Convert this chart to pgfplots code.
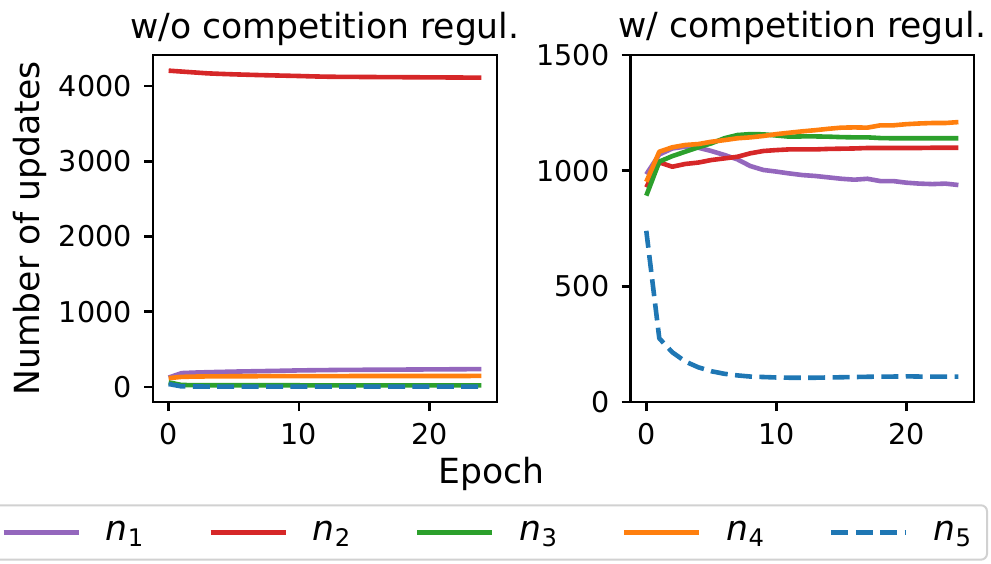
\documentclass[border=0pt]{standalone}
\usepackage{fontspec}
\setmainfont{DejaVu Sans}
\usepackage{pgfplots}
\pgfplotsset{compat=1.18}

\definecolor{tabpurple}{HTML}{9467BD}
\definecolor{tabred}{HTML}{D62728}
\definecolor{tabgreen}{HTML}{2CA02C}
\definecolor{taborange}{HTML}{FF7F0E}
\definecolor{tabblue}{HTML}{1F77B4}

% one row per epoch: n1 n2 n3 n4 n5
\pgfplotstableread{
ep n1 n2 n3 n4 n5
0 125 4204 62 118 40
1 185 4192 27 135 8
2 192 4180 25 139 7
3 197 4168 24 141 6
4 201 4161 24 142 6
5 205 4155 23 143 5
6 208 4150 23 143 5
7 211 4145 23 144 5
8 214 4141 23 144 5
9 217 4137 23 144 5
10 221 4133 23 145 5
11 223 4128 22 145 5
12 225 4124 22 145 5
13 227 4122 22 145 5
14 228 4121 22 146 5
15 229 4120 22 146 5
16 230 4119 22 146 5
17 231 4118 22 146 5
18 232 4117 22 146 5
19 233 4116 22 147 5
20 234 4115 22 147 5
21 235 4114 22 147 5
22 236 4113 22 147 5
23 237 4112 22 147 5
24 238 4111 22 148 5
}\noreg

\pgfplotstableread{
ep n1 n2 n3 n4 n5
0 984 928 892 952 740
1 1070 1036 1039 1082 275
2 1096 1017 1063 1101 215
3 1104 1029 1082 1111 175
4 1099 1035 1101 1115 150
5 1085 1046 1118 1125 133
6 1068 1053 1140 1132 122
7 1049 1060 1154 1140 115
8 1020 1075 1158 1144 110
9 1003 1085 1157 1150 108
10 996 1089 1152 1158 106
11 988 1092 1147 1164 105
12 981 1092 1148 1170 105
13 977 1092 1148 1175 105
14 971 1094 1147 1181 106
15 965 1095 1145 1186 107
16 961 1096 1144 1187 108
17 965 1098 1144 1186 109
18 955 1098 1141 1196 110
19 955 1098 1140 1196 110
20 948 1098 1140 1201 111
21 944 1098 1140 1204 110
22 942 1099 1140 1206 110
23 944 1099 1140 1206 110
24 938 1099 1140 1210 110
}\withreg

\pgfplotsset{
  panel/.style={
    scale only axis, width=172pt, height=173.5pt, anchor=south west,
    xmin=-1.2, xmax=25.2, xtick={0,10,20},
    tick align=outside, tick pos=left, major tick length=4.5pt,
    axis line style={line width=1.3pt},
    every tick/.style={black, line width=1.3pt},
    tick label style={font=\fontsize{14.3}{16}\selectfont},
    xticklabel style={inner sep=0pt, anchor=north, yshift=-6pt},
    yticklabel style={inner sep=0pt, anchor=east, xshift=-6pt},
    /pgf/number format/assume math mode=true,
    /pgf/number format/set thousands separator={},
    scaled y ticks=false,
    title style={font=\fontsize{17.3}{20}\selectfont, anchor=base, yshift=2.5pt, inner sep=0pt},
    every axis plot/.append style={line width=2.3pt, line join=round},
  },
}

\begin{document}
\begin{tikzpicture}
\begin{axis}[panel, at={(76.5pt,80.5pt)},
  title={w/o competition regul.},
  ymin=-199, ymax=4412, ytick={0,1000,2000,3000,4000}]
\addplot[tabpurple] table[x=ep, y=n1] {\noreg};
\addplot[tabred] table[x=ep, y=n2] {\noreg};
\addplot[tabgreen] table[x=ep, y=n3] {\noreg};
\addplot[taborange] table[x=ep, y=n4] {\noreg};
\addplot[tabblue, dash pattern=on 8.5pt off 3.7pt] table[x=ep, y=n5] {\noreg};
\end{axis}

\begin{axis}[panel, at={(315.35pt,80.5pt)}, width=171.65pt,
  title={w/ competition regul.},
  ymin=0, ymax=1500, ytick={0,500,1000,1500},
  legend columns=5,
  legend image code/.code={\draw[#1] (0pt,0pt) -- (37.5pt,0pt);},
  legend style={at={(1.0408,-0.376)}, anchor=east,
    draw=black!18, line width=1pt, rounded corners=3pt,
    inner xsep=7.5pt, inner ysep=8pt,
    font=\fontsize{17.3}{20}\selectfont,
    nodes={inner sep=0pt, anchor=west},
    /tikz/every odd column/.style={column sep=12.5pt},
    /tikz/every even column/.style={column sep=32pt}}]
\addplot[tabpurple] table[x=ep, y=n1] {\withreg};
\addlegendentry{\textit{n}\textsubscript{1}}
\addplot[tabred] table[x=ep, y=n2] {\withreg};
\addlegendentry{\textit{n}\textsubscript{2}}
\addplot[tabgreen] table[x=ep, y=n3] {\withreg};
\addlegendentry{\textit{n}\textsubscript{3}}
\addplot[taborange] table[x=ep, y=n4] {\withreg};
\addlegendentry{\textit{n}\textsubscript{4}}
\addplot[tabblue, dash pattern=on 8.5pt off 3.7pt] table[x=ep, y=n5] {\withreg};
\addlegendentry{\textit{n}\textsubscript{5}}
\end{axis}

\node[font=\fontsize{17.3}{20}\selectfont, anchor=base, inner sep=0pt] at (245.8pt,39.75pt) {Epoch};
\node[font=\fontsize{17.3}{20}\selectfont, rotate=90, anchor=base, inner sep=0pt] at (20pt,167.25pt) {Number of updates};

\pgfresetboundingbox
\useasboundingbox (0,0) rectangle (495.5pt,281.5pt);
\end{tikzpicture}
\end{document}
